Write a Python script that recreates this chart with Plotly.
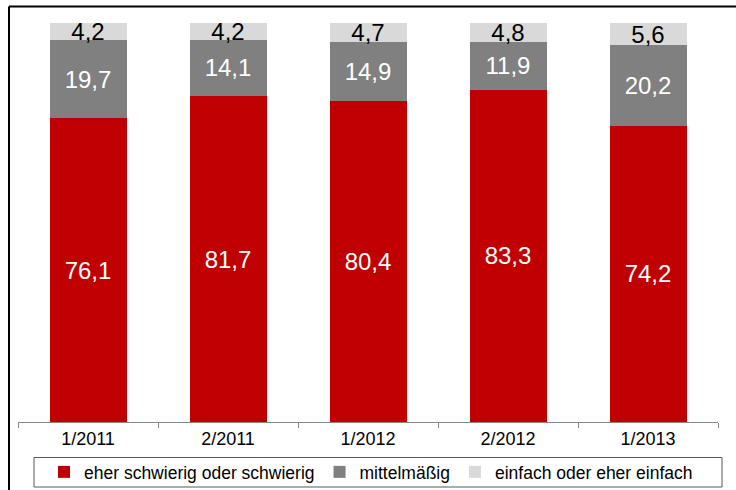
import plotly.graph_objects as go

categories = ["1/2011", "2/2011", "1/2012", "2/2012", "1/2013"]
schwierig = [76.1, 81.7, 80.4, 83.3, 74.2]
mittel = [19.7, 14.1, 14.9, 11.9, 20.2]
einfach = [4.2, 4.2, 4.7, 4.8, 5.6]

series = [
    ("eher schwierig oder schwierig", schwierig, "#C00000", "white"),
    ("mittelmäßig", mittel, "#808080", "white"),
    ("einfach oder eher einfach", einfach, "#D9D9D9", "black"),
]

fig = go.Figure()
for name, vals, col, tcol in series:
    fig.add_trace(go.Bar(
        x=categories, y=vals, name=name,
        marker=dict(color=col, line=dict(width=0)),
        texttemplate="%{y:.1f}", textposition="inside",
        insidetextanchor="middle", textangle=0, constraintext="none",
        textfont=dict(size=24, color=tcol, family="Liberation Sans, Arial"),
        hoverinfo="skip",
    ))

L, R, T, B = 18, 18, 23, 68
W, H = 736, 490
pw, ph = W - L - R, H - T - B

def px(x):
    return (x - L) / pw

def py(y):
    return (H - B - y) / ph

fig.update_layout(
    barmode="stack", bargap=0.45,
    width=W, height=H,
    margin=dict(l=L, r=R, t=T, b=B, pad=0, autoexpand=False),
    paper_bgcolor="white", plot_bgcolor="white",
    separators=",.",
    font=dict(family="Liberation Sans, Arial", color="black"),
    uniformtext=dict(minsize=24, mode="show"),
    xaxis=dict(
        showline=True, linecolor="#868686", linewidth=1,
        ticks="outside", tickson="boundaries", ticklen=5, tickcolor="#868686",
        tickfont=dict(size=18, color="black"), showgrid=False,
    ),
    yaxis=dict(range=[0, 100], visible=False, showgrid=False),
    legend=dict(
        orientation="h", x=px(44), xanchor="left", y=py(472), yanchor="middle",
        font=dict(size=17.5, color="black"), bgcolor="rgba(0,0,0,0)",
        borderwidth=0, traceorder="normal",
    ),
    shapes=[
        dict(type="line", xref="paper", yref="paper",
             x0=px(9), x1=px(740), y0=py(6.5), y1=py(6.5),
             line=dict(color="black", width=2), layer="above"),
        dict(type="line", xref="paper", yref="paper",
             x0=px(9), x1=px(9), y0=py(6.5), y1=py(495),
             line=dict(color="black", width=2), layer="above"),
        dict(type="rect", xref="paper", yref="paper",
             x0=px(34), x1=px(722), y0=py(457.5), y1=py(487),
             line=dict(color="#595959", width=1), layer="above"),
    ],
)

fig.write_html(
    "out.html",
    config={"displayModeBar": False},
    post_script="document.body.style.margin='0';document.body.style.overflow='hidden';",
)
